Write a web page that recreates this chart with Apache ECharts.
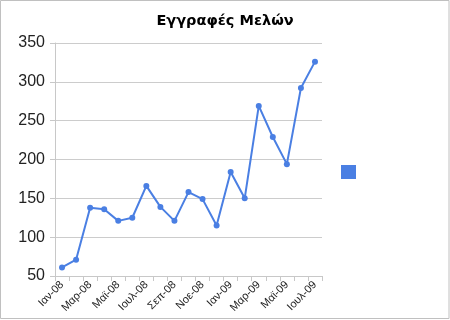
<!DOCTYPE html>
<html><head><meta charset="utf-8">
<script src="https://cdn.jsdelivr.net/npm/echarts@6/dist/echarts.min.js"></script>
<style>html,body{margin:0;padding:0;background:#fff}#c{width:450px;height:320px}</style>
</head><body><div id="c"></div>
<script>
var categories = ['Ιαν-08','Φεβ-08','Μαρ-08','Απρ-08','Μαϊ-08','Ιουν-08','Ιουλ-08','Αυγ-08','Σεπ-08','Οκτ-08','Νοε-08','Δεκ-08','Ιαν-09','Φεβ-09','Μαρ-09','Απρ-09','Μαϊ-09','Ιουν-09','Ιουλ-09'];
var members = [61, 71, 138, 136, 121, 125, 166, 139, 121, 158, 149, 115, 184, 150, 269, 229, 194, 292, 326];
var yTicks = [50, 100, 150, 200, 250, 300, 350];
var seriesName = 'Εγγραφές';
var chart = echarts.init(document.getElementById('c'), null, {renderer:'canvas'});
chart.setOption({
  animation:false,
  backgroundColor:'#fff',
  title:{text:'Εγγραφές Μελών', left:'center', top:9,
    textStyle:{fontFamily:'DejaVu Sans', fontWeight:'bold', fontSize:14.5, color:'#000'}},
  graphic:[{type:'rect', shape:{x:0.5,y:0.5,width:448.5,height:318}, style:{fill:null, stroke:'#c0c0c0', lineWidth:1}, silent:true}],
  legend:{show:true, left:336, top:160, icon:'rect', itemWidth:15, itemHeight:14, itemGap:0,
    data:[seriesName], formatter:function(){return '';}, textStyle:{fontSize:1}},
  grid:{left:55, right:128, top:43, bottom:44, containLabel:false},
  xAxis:{type:'category', data:categories, boundaryGap:true,
    axisLine:{show:true, lineStyle:{color:'#c8c8c8', width:1}},
    axisTick:{show:true, interval:0, length:5, lineStyle:{color:'#c8c8c8'}},
    axisLabel:{interval:1, rotate:45, margin:7, fontFamily:'Liberation Sans', fontSize:11, color:'#222'},
    splitLine:{show:false}},
  yAxis:{type:'value', min:yTicks[0], max:yTicks[yTicks.length-1], interval:50,
    axisLine:{show:true, lineStyle:{color:'#c8c8c8'}},
    axisTick:{show:true, length:5, lineStyle:{color:'#c8c8c8'}},
    axisLabel:{margin:10, fontFamily:'Liberation Sans', fontSize:16, color:'#222'},
    splitLine:{show:true, lineStyle:{color:'#cccccc', width:1}}},
  series:[{name:seriesName, type:'line', data:members, symbol:'circle', symbolSize:6,
    itemStyle:{color:'#4a7fe3'}, lineStyle:{color:'#4a7fe3', width:2}}]
});
</script></body></html>
